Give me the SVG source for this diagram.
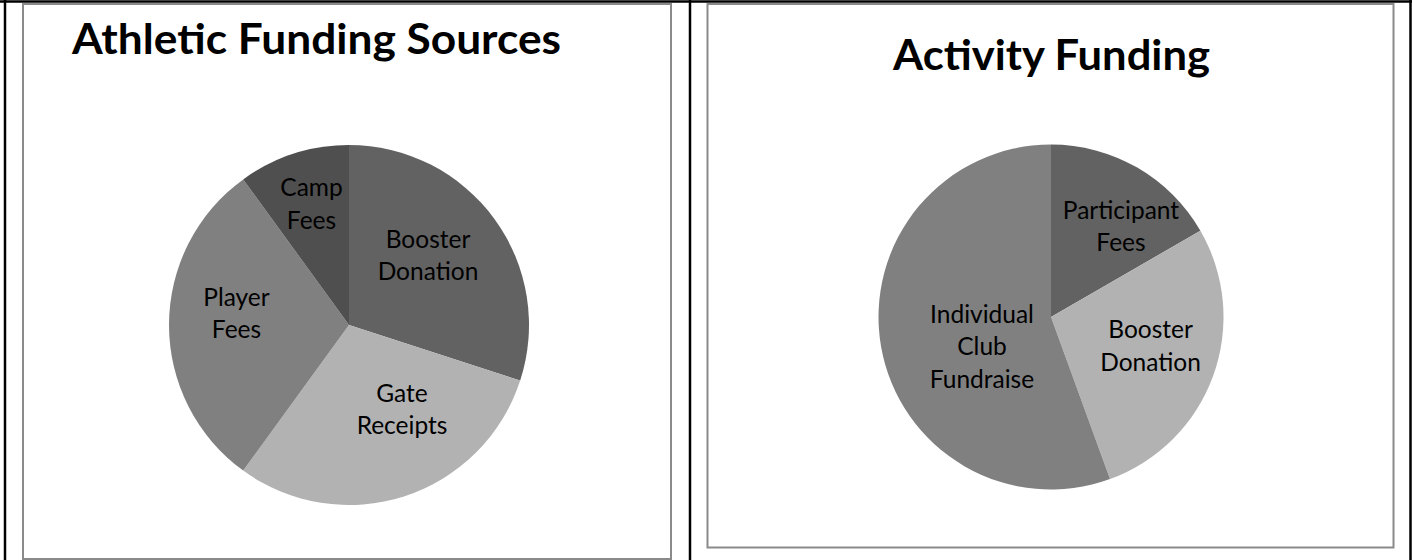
<svg xmlns="http://www.w3.org/2000/svg" width="1412" height="560" viewBox="0 0 1412 560">
  <style>
    .frame { fill: none; stroke: #000; stroke-width: 2.5; }
    .chartbox { fill: #fff; stroke: #8a8a8a; stroke-width: 2; }
    .title { font-family: Lato, "Liberation Sans", sans-serif; font-weight: bold; font-size: 42px; fill: #000; }
    .lbl { font-family: Lato, "Liberation Sans", sans-serif; font-size: 24.5px; fill: #000; text-anchor: middle; }
    .s1 { fill: #626262; }
    .s2 { fill: #b2b2b2; }
    .s3 { fill: #808080; }
    .s4 { fill: #4f4f4f; }
  </style>
  <rect x="0" y="0" width="1412" height="560" fill="#fff"/>
  <g id="table-frame">
    <line class="frame" x1="0" y1="1.5" x2="1412" y2="1.5"/>
    <line class="frame" x1="5" y1="0" x2="5" y2="560"/>
    <line class="frame" x1="690" y1="0" x2="690" y2="560"/>
    <line class="frame" x1="1410.5" y1="0" x2="1410.5" y2="560"/>
  </g>
  <g id="chart-athletic">
    <rect class="chartbox" x="23" y="4" width="648" height="555"/>
    <text class="title" x="72" y="54" textLength="489" lengthAdjust="spacingAndGlyphs">Athletic Funding Sources</text>
    <g id="slice-booster-donation">
      <path class="s1" d="M349,325 L349,145 A180,180 0 0 1 520.19,380.62 Z"/>
      <text class="lbl" x="428" y="247.6">Booster</text>
      <text class="lbl" x="428" y="279.7">Donation</text>
    </g>
    <g id="slice-gate-receipts">
      <path class="s2" d="M349,325 L520.19,380.62 A180,180 0 0 1 243.2,470.62 Z"/>
      <text class="lbl" x="402" y="402">Gate</text>
      <text class="lbl" x="402" y="434">Receipts</text>
    </g>
    <g id="slice-player-fees">
      <path class="s3" d="M349,325 L243.2,470.62 A180,180 0 0 1 243.2,179.38 Z"/>
      <text class="lbl" x="236.5" y="306.4">Player</text>
      <text class="lbl" x="236.5" y="338.4">Fees</text>
    </g>
    <g id="slice-camp-fees">
      <path class="s4" d="M349,325 L243.2,179.38 A180,180 0 0 1 349,145 Z"/>
      <text class="lbl" x="311.5" y="195.9">Camp</text>
      <text class="lbl" x="311.5" y="228.6">Fees</text>
    </g>
  </g>
  <g id="chart-activity">
    <rect class="chartbox" x="707.5" y="4" width="686" height="543.5"/>
    <text class="title" x="893" y="70" textLength="317" lengthAdjust="spacingAndGlyphs">Activity Funding</text>
    <g id="slice-participant-fees">
      <path class="s1" d="M1051,317 L1051,144.5 A172.5,172.5 0 0 1 1200.39,230.75 Z"/>
      <text class="lbl" x="1121" y="219.3">Participant</text>
      <text class="lbl" x="1121" y="251">Fees</text>
    </g>
    <g id="slice-activity-booster">
      <path class="s2" d="M1051,317 L1200.39,230.75 A172.5,172.5 0 0 1 1110,479.1 Z"/>
      <text class="lbl" x="1150.6" y="338.3">Booster</text>
      <text class="lbl" x="1150.6" y="370.7">Donation</text>
    </g>
    <g id="slice-individual-club">
      <path class="s3" d="M1051,317 L1110,479.1 A172.5,172.5 0 1 1 1051,144.5 Z"/>
      <text class="lbl" x="982" y="322.7">Individual</text>
      <text class="lbl" x="982" y="355">Club</text>
      <text class="lbl" x="982" y="388.3">Fundraise</text>
    </g>
  </g>
</svg>
